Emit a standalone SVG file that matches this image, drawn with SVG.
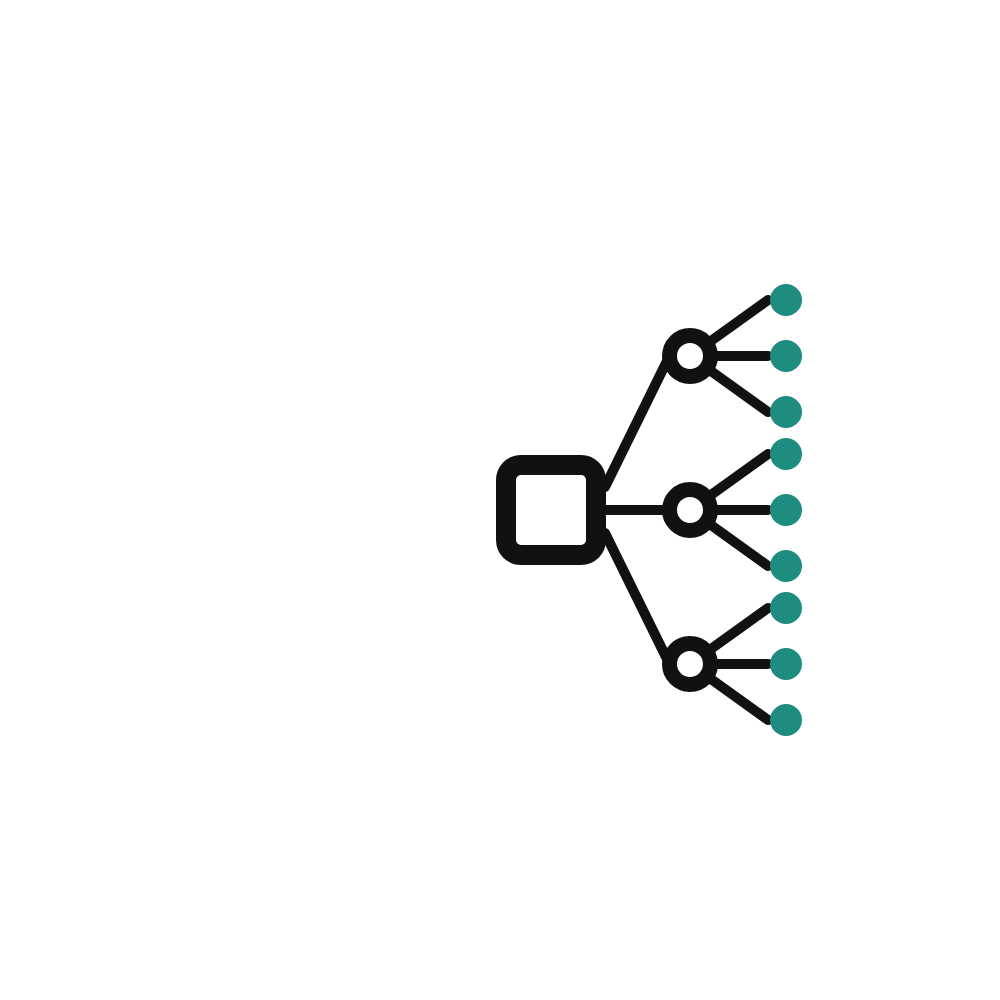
<svg xmlns="http://www.w3.org/2000/svg" width="1000" height="1000" viewBox="0 0 1000 1000">
<style>
.edge{stroke:#111;stroke-width:10;fill:none;stroke-linecap:round}
.root{fill:#fff;stroke:#111;stroke-width:20}
.mid{fill:#fff;stroke:#111;stroke-width:15}
.leaf{fill:#1e8c7e}
</style>
<rect width="1000" height="1000" fill="#fff"/>
<g id="connectors">
<line class="edge" x1="605" y1="487" x2="667" y2="361"/>
<line class="edge" x1="605" y1="510" x2="670" y2="510"/>
<line class="edge" x1="605" y1="533" x2="667" y2="659"/>
<line class="edge" x1="690" y1="356" x2="768" y2="300"/>
<line class="edge" x1="690" y1="356" x2="768" y2="356"/>
<line class="edge" x1="690" y1="356" x2="768" y2="412"/>
<line class="edge" x1="690" y1="510" x2="768" y2="454"/>
<line class="edge" x1="690" y1="510" x2="768" y2="510"/>
<line class="edge" x1="690" y1="510" x2="768" y2="566"/>
<line class="edge" x1="690" y1="664" x2="768" y2="608"/>
<line class="edge" x1="690" y1="664" x2="768" y2="664"/>
<line class="edge" x1="690" y1="664" x2="768" y2="720"/>
</g>
<g id="root"><rect class="root" x="506" y="465" width="90" height="90" rx="15"/></g>
<g id="child1"><circle class="mid" cx="690" cy="356" r="20.5"/></g>
<g id="child2"><circle class="mid" cx="690" cy="510" r="20.5"/></g>
<g id="child3"><circle class="mid" cx="690" cy="664" r="20.5"/></g>
<g id="leaf1"><circle class="leaf" cx="786" cy="300" r="16"/></g>
<g id="leaf2"><circle class="leaf" cx="786" cy="356" r="16"/></g>
<g id="leaf3"><circle class="leaf" cx="786" cy="412" r="16"/></g>
<g id="leaf4"><circle class="leaf" cx="786" cy="454" r="16"/></g>
<g id="leaf5"><circle class="leaf" cx="786" cy="510" r="16"/></g>
<g id="leaf6"><circle class="leaf" cx="786" cy="566" r="16"/></g>
<g id="leaf7"><circle class="leaf" cx="786" cy="608" r="16"/></g>
<g id="leaf8"><circle class="leaf" cx="786" cy="664" r="16"/></g>
<g id="leaf9"><circle class="leaf" cx="786" cy="720" r="16"/></g>
</svg>
